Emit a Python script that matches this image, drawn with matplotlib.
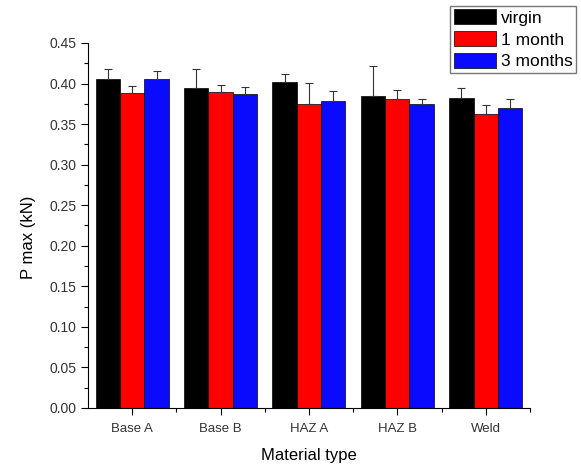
import matplotlib
matplotlib.use("Agg")
import matplotlib.pyplot as plt
import numpy as np
from matplotlib.ticker import MultipleLocator, FixedLocator

plt.rcParams["font.family"] = ["Liberation Sans", "DejaVu Sans"]

materials = ["Base A", "Base B", "HAZ A", "HAZ B", "Weld"]
series = ["virgin", "1 month", "3 months"]
virgin = [0.406, 0.394, 0.402, 0.385, 0.382]
one_month = [0.388, 0.390, 0.375, 0.381, 0.362]
three_months = [0.406, 0.387, 0.378, 0.375, 0.370]
virgin_err = [0.012, 0.024, 0.010, 0.036, 0.012]
one_month_err = [0.009, 0.008, 0.026, 0.011, 0.012]
three_months_err = [0.010, 0.009, 0.013, 0.006, 0.011]

colors = ["#000000", "#ff0000", "#0a0aff"]

fig = plt.figure(figsize=(5.81, 4.65), dpi=100)
ax = fig.add_axes([0.1515, 0.1226, 0.7605, 0.785])

x = np.arange(len(materials))
width = 0.275
values = [virgin, one_month, three_months]
errors = [virgin_err, one_month_err, three_months_err]
for i, (vals, errs, label, c) in enumerate(zip(values, errors, series, colors)):
    pos = x + (i - 1) * width
    ax.bar(pos, vals, width, color=c, edgecolor="black", linewidth=0.5, label=label)
    ax.errorbar(pos, vals, yerr=[np.zeros(len(errs)), errs], fmt="none",
                ecolor="#333333", elinewidth=0.8, capsize=3, capthick=0.8)

ax.set_xlim(-0.5, 4.5)
ax.set_ylim(0, 0.45)
ax.set_xticks(x)
ax.set_xticklabels(materials, fontsize=9.5, color="#333333")
ax.xaxis.set_minor_locator(FixedLocator(np.arange(0.5, 4.6, 1.0)))
ax.yaxis.set_minor_locator(MultipleLocator(0.025))
ax.set_yticks(np.arange(0, 0.451, 0.05))
ax.set_yticklabels([f"{v:.2f}" for v in np.arange(0, 0.451, 0.05)], fontsize=10, color="#333333")
ax.tick_params(which="major", direction="out", length=5, width=0.8)
ax.tick_params(which="minor", direction="out", length=3, width=0.8)
ax.tick_params(axis="x", pad=6)

ax.spines["top"].set_visible(False)
ax.spines["right"].set_visible(False)

ax.set_xlabel("Material type", fontsize=12, labelpad=9)
ax.set_ylabel("P max (kN)", fontsize=12)
ax.yaxis.set_label_coords(-0.118, 0.468)

fig.legend(loc="upper right", bbox_to_anchor=(576 / 581, 1 - 6 / 465),
           fontsize=12.5, frameon=True, fancybox=False, edgecolor="#555555",
           handlelength=2.4, handleheight=0.95, labelspacing=0.3,
           handletextpad=0.3, borderpad=0.2, borderaxespad=0)

fig.savefig("out.png", dpi=100)
